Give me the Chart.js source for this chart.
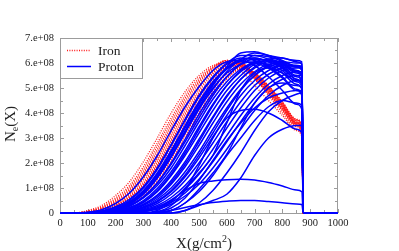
<!DOCTYPE html>
<html>
<head>
<meta charset="utf-8">
<script src="https://cdn.jsdelivr.net/npm/chart.js@4.4.0/dist/chart.umd.min.js"></script>
<style>
html, body { margin: 0; padding: 0; background: #fff; }
#wrap { width: 399px; height: 251px; }
</style>
</head>
<body>
<div id="wrap"><canvas id="chart" width="399" height="251"></canvas></div>
<script>
// depth grid in g/cm2, shower size in units of 1e8
const depth = [0, 50, 100, 150, 200, 250, 300, 350, 400, 450, 500, 550, 600, 650, 700, 750, 800, 850, 870];
const groundDepth = [875, 1000]; // ground level, size drops to 0 there
const groundSize = [0, 0];

const xTicks = [0, 100, 200, 300, 400, 500, 600, 700, 800, 900, 1000];
const yTicks = [0, 1, 2, 3, 4, 5, 6, 7];
const yTickLabels = ['0', '1.e+08', '2.e+08', '3.e+08', '4.e+08', '5.e+08', '6.e+08', '7.e+08'];

const ironCurves = [
    [0, 0, 0.08, 0.25, 0.6, 1.1, 1.85, 2.8, 3.8, 4.7, 5.4, 5.85, 6.1, 5.85, 5.35, 4.75, 4.1, 3.45, 3.2],
    [0, 0, 0.06, 0.2, 0.5, 0.95, 1.65, 2.55, 3.55, 4.5, 5.25, 5.8, 6.1, 5.9, 5.4, 4.8, 4.15, 3.5, 3.25],
    [0, 0, 0.05, 0.17, 0.43, 0.85, 1.5, 2.35, 3.35, 4.3, 5.1, 5.7, 6.05, 5.95, 5.45, 4.85, 4.2, 3.55, 3.3],
    [0, 0, 0.04, 0.15, 0.38, 0.78, 1.4, 2.2, 3.2, 4.15, 5.0, 5.6, 6.0, 6.0, 5.5, 4.9, 4.25, 3.6, 3.35],
    [0, 0, 0.03, 0.12, 0.32, 0.68, 1.25, 2.05, 3.0, 3.95, 4.8, 5.45, 5.9, 6.0, 5.55, 4.95, 4.3, 3.6, 3.35],
    [0, 0, 0.03, 0.1, 0.28, 0.6, 1.12, 1.88, 2.8, 3.75, 4.65, 5.35, 5.85, 5.95, 5.55, 4.98, 4.32, 3.62, 3.38],
    [0, 0, 0.02, 0.08, 0.24, 0.52, 1.0, 1.72, 2.6, 3.55, 4.45, 5.2, 5.75, 5.9, 5.6, 5.0, 4.35, 3.65, 3.4],
    [0, 0, 0.02, 0.07, 0.2, 0.45, 0.88, 1.55, 2.42, 3.35, 4.25, 5.05, 5.6, 5.85, 5.6, 5.05, 4.4, 3.7, 3.45],
    [0, 0, 0.01, 0.05, 0.16, 0.38, 0.78, 1.4, 2.25, 3.15, 4.05, 4.85, 5.45, 5.8, 5.6, 5.05, 4.42, 3.72, 3.48],
    [0, 0, 0.01, 0.04, 0.13, 0.32, 0.68, 1.25, 2.05, 2.95, 3.85, 4.7, 5.35, 5.75, 5.6, 5.1, 4.45, 3.75, 3.5],
    [0, 0, 0.05, 0.18, 0.46, 0.9, 1.58, 2.45, 3.45, 4.4, 5.2, 5.75, 6.1, 5.95, 5.42, 4.82, 4.18, 3.52, 3.28],
    [0, 0, 0.04, 0.14, 0.36, 0.74, 1.35, 2.15, 3.1, 4.05, 4.9, 5.55, 5.95, 6.0, 5.5, 4.9, 4.25, 3.58, 3.32],
    [0, 0, 0.03, 0.11, 0.3, 0.64, 1.18, 1.95, 2.9, 3.85, 4.72, 5.4, 5.88, 5.98, 5.52, 4.95, 4.3, 3.6, 3.36],
    [0, 0, 0.02, 0.09, 0.26, 0.56, 1.06, 1.8, 2.7, 3.65, 4.55, 5.28, 5.8, 5.92, 5.55, 4.98, 4.33, 3.63, 3.38],
    [0, 0, 0.02, 0.06, 0.18, 0.42, 0.84, 1.48, 2.35, 3.25, 4.15, 4.95, 5.55, 5.82, 5.58, 5.05, 4.4, 3.7, 3.45],
    [0, 0, 0.07, 0.22, 0.55, 1.02, 1.75, 2.68, 3.68, 4.6, 5.32, 5.82, 6.1, 5.88, 5.38, 4.78, 4.12, 3.47, 3.22],
    [0, 0, 0.04, 0.16, 0.4, 0.8, 1.45, 2.28, 3.28, 4.22, 5.05, 5.65, 6.02, 5.98, 5.48, 4.88, 4.22, 3.56, 3.3],
    [0, 0, 0.01, 0.05, 0.15, 0.36, 0.74, 1.33, 2.15, 3.05, 3.95, 4.78, 5.4, 5.78, 5.6, 5.08, 4.44, 3.74, 3.5],
    [0, 0, 0.1, 0.3, 0.7, 1.25, 2.05, 3.0, 4.0, 4.85, 5.5, 5.9, 6.0, 5.7, 5.1, 4.5, 3.9, 3.3, 3.05],
    [0, 0, 0.02, 0.1, 0.3, 0.62, 1.15, 1.9, 2.85, 3.8, 4.7, 5.4, 5.85, 5.9, 5.4, 4.7, 4.0, 3.35, 3.1]
];

const protonCurves = [
    [0, 0, 0.03, 0.13, 0.38, 0.8, 1.45, 2.3, 3.3, 4.25, 5.05, 5.7, 6.05, 6.1, 5.9, 5.45, 4.9, 4.35, 4.15],
    [0, 0, 0.01, 0.06, 0.22, 0.5, 1.0, 1.75, 2.7, 3.7, 4.65, 5.4, 5.95, 6.2, 6.1, 5.85, 5.45, 4.95, 4.75],
    [0, 0, 0, 0.04, 0.15, 0.4, 0.85, 1.55, 2.45, 3.45, 4.4, 5.2, 5.8, 6.15, 6.2, 6.05, 5.8, 5.35, 5.15],
    [0, 0, 0, 0.03, 0.12, 0.34, 0.75, 1.4, 2.25, 3.25, 4.2, 4.95, 5.65, 6.15, 6.4, 6.3, 6.1, 5.85, 5.7],
    [0, 0, 0, 0.03, 0.12, 0.35, 0.8, 1.45, 2.3, 3.3, 4.25, 5.1, 5.85, 6.4, 6.45, 6.3, 6.2, 6.1, 6.05],
    [0, 0, 0, 0.02, 0.1, 0.28, 0.62, 1.2, 2.0, 2.95, 3.95, 4.8, 5.45, 5.95, 6.3, 6.25, 6.05, 5.7, 5.5],
    [0, 0, 0.02, 0.08, 0.25, 0.55, 1.05, 1.8, 2.75, 3.75, 4.7, 5.45, 6.0, 6.3, 6.3, 6.15, 5.9, 5.5, 5.3],
    [0, 0, 0.01, 0.05, 0.18, 0.45, 0.9, 1.6, 2.5, 3.5, 4.45, 5.25, 5.8, 6.05, 6.0, 5.8, 5.4, 4.9, 4.7],
    [0, 0, 0, 0.01, 0.06, 0.18, 0.42, 0.85, 1.5, 2.3, 3.2, 4.1, 4.9, 5.5, 5.95, 6.1, 6.0, 5.7, 5.55],
    [0, 0, 0, 0.01, 0.05, 0.15, 0.35, 0.72, 1.3, 2.05, 2.95, 3.85, 4.7, 5.35, 5.8, 6.05, 6.05, 5.85, 5.75],
    [0, 0, 0, 0.01, 0.04, 0.12, 0.3, 0.62, 1.15, 1.85, 2.7, 3.6, 4.45, 5.15, 5.65, 5.95, 6.0, 5.9, 5.85],
    [0, 0, 0, 0, 0.03, 0.1, 0.25, 0.55, 1.0, 1.65, 2.45, 3.35, 4.2, 4.95, 5.5, 5.85, 5.95, 5.85, 5.8],
    [0, 0, 0, 0, 0.02, 0.07, 0.2, 0.45, 0.85, 1.45, 2.2, 3.05, 3.9, 4.7, 5.3, 5.7, 5.9, 5.9, 5.85],
    [0, 0, 0, 0, 0.02, 0.06, 0.16, 0.38, 0.75, 1.3, 2.0, 2.8, 3.65, 4.45, 5.1, 5.55, 5.8, 5.85, 5.85],
    [0, 0, 0, 0, 0.01, 0.05, 0.13, 0.3, 0.62, 1.1, 1.75, 2.55, 3.4, 4.2, 4.9, 5.4, 5.7, 5.8, 5.8],
    [0, 0, 0, 0, 0.01, 0.04, 0.1, 0.25, 0.52, 0.95, 1.55, 2.3, 3.1, 3.9, 4.6, 5.15, 5.5, 5.65, 5.65],
    [0, 0, 0, 0, 0, 0.03, 0.08, 0.2, 0.42, 0.8, 1.35, 2.05, 2.85, 3.65, 4.4, 5.0, 5.35, 5.5, 5.5],
    [0, 0, 0, 0, 0, 0.02, 0.06, 0.15, 0.35, 0.68, 1.15, 1.8, 2.55, 3.35, 4.1, 4.7, 5.1, 5.3, 5.3],
    [0, 0, 0, 0.02, 0.09, 0.27, 0.6, 1.1, 1.8, 2.7, 3.65, 4.55, 5.25, 5.75, 6.0, 5.95, 5.7, 5.25, 5.05],
    [0, 0, 0.01, 0.04, 0.14, 0.38, 0.8, 1.42, 2.25, 3.2, 4.15, 5.0, 5.6, 5.95, 6.05, 5.9, 5.6, 5.15, 4.95],
    [0, 0, 0, 0.03, 0.11, 0.3, 0.65, 1.2, 1.95, 2.85, 3.8, 4.7, 5.45, 5.95, 6.15, 6.1, 5.85, 5.45, 5.25],
    [0, 0, 0, 0.02, 0.07, 0.2, 0.45, 0.9, 1.55, 2.4, 3.35, 4.3, 5.1, 5.7, 6.05, 6.15, 6.0, 5.65, 5.5],
    [0, 0, 0, 0.01, 0.05, 0.14, 0.33, 0.68, 1.22, 1.95, 2.85, 3.8, 4.65, 5.35, 5.85, 6.15, 6.2, 6.05, 5.95],
    [0, 0, 0, 0, 0.03, 0.09, 0.22, 0.48, 0.9, 1.52, 2.32, 3.2, 4.1, 4.9, 5.5, 5.9, 6.05, 6.0, 6.0],
    [0, 0, 0.01, 0.05, 0.17, 0.42, 0.85, 1.5, 2.4, 3.4, 4.35, 5.15, 5.75, 6.1, 6.2, 6.05, 5.8, 5.35, 5.15],
    [0, 0, 0, 0.02, 0.08, 0.22, 0.5, 0.98, 1.65, 2.5, 3.45, 4.35, 5.1, 5.65, 6.0, 6.1, 5.95, 5.6, 5.45],
    // late and small showers
    [0, 0, 0, 0, 0, 0, 0, 0.05, 0.3, 0.9, 1.9, 3.0, 3.8, 4.1, 4.15, 4.0, 3.7, 3.35, 3.2],
    [0, 0, 0, 0, 0, 0, 0, 0, 0, 0.1, 0.3, 0.5, 0.75, 1.4, 2.3, 3.0, 3.35, 3.5, 3.5],
    [0, 0, 0, 0, 0, 0, 0, 0, 0.1, 0.4, 0.85, 1.5, 2.3, 3.0, 3.7, 4.25, 4.5, 4.4, 4.3],
    [0, 0, 0, 0, 0, 0, 0, 0.05, 0.2, 0.6, 1.3, 2.1, 2.9, 3.6, 4.2, 4.6, 4.8, 4.9, 4.9],
    [0, 0, 0, 0, 0, 0, 0, 0, 0, 0.1, 0.4, 0.9, 1.6, 2.4, 3.3, 4.05, 4.5, 4.75, 4.8],
    [0, 0, 0, 0, 0, 0, 0, 0, 0.1, 0.4, 0.95, 1.6, 2.35, 3.4, 4.4, 5.0, 5.2, 5.1, 5.0],
    [0, 0, 0, 0, 0, 0, 0, 0.1, 0.45, 1.0, 1.6, 2.3, 3.6, 4.9, 5.6, 5.8, 5.6, 5.3, 5.2],
    [0, 0, 0, 0, 0, 0, 0, 0.03, 0.1, 0.22, 0.33, 0.42, 0.47, 0.5, 0.5, 0.46, 0.41, 0.36, 0.34],
    [0, 0, 0, 0, 0, 0, 0.05, 0.2, 0.5, 0.9, 1.18, 1.28, 1.33, 1.35, 1.32, 1.22, 1.08, 0.92, 0.85]
];

const serif = "'Liberation Serif', serif";
const frameColor = '#9c9c9c';
const ironColor = '#ff1a1a';
const protonColor = '#0000ff';

function toPoints(curve) {
    const xs = depth.concat(groundDepth);
    const ys = curve.concat(groundSize);
    return xs.map((x, i) => ({ x: x, y: ys[i] }));
}

function makeDataset(curve, isIron) {
    return {
        data: toPoints(curve),
        borderColor: isIron ? ironColor : protonColor,
        borderWidth: isIron ? 1.3 : 1.5,
        borderDash: isIron ? [1, 1.4] : [],
        pointRadius: 0,
        showLine: true,
        fill: false,
        cubicInterpolationMode: 'monotone',
        clip: false,
        order: isIron ? 1 : 0 // protons drawn on top
    };
}

// frame and inward ticks, under the curves
const framePlugin = {
    id: 'framePlugin',
    beforeDatasetsDraw(chart) {
        const ctx = chart.ctx;
        const a = chart.chartArea;
        const xs = chart.scales.x, ys = chart.scales.y;
        ctx.save();
        ctx.strokeStyle = frameColor;
        ctx.lineWidth = 1;
        ctx.strokeRect(a.left + 0.5, a.top + 0.5, a.right - a.left - 1, a.bottom - a.top);

        ctx.beginPath();
        for (let i = 0; i < xTicks.length; i++) {
            const mids = [xTicks[i]];
            if (i < xTicks.length - 1) mids.push((xTicks[i] + xTicks[i + 1]) / 2);
            mids.forEach((v, k) => {
                const px = Math.round(xs.getPixelForValue(v)) + 0.5;
                const len = k === 0 ? 4 : 3;
                ctx.moveTo(px, a.bottom); ctx.lineTo(px, a.bottom - len);
                ctx.moveTo(px, a.top); ctx.lineTo(px, a.top + len);
            });
        }
        for (let i = 0; i < yTicks.length; i++) {
            const mids = [yTicks[i]];
            if (i < yTicks.length - 1) mids.push((yTicks[i] + yTicks[i + 1]) / 2);
            mids.forEach((v, k) => {
                const py = Math.round(ys.getPixelForValue(v)) + 0.5;
                const len = k === 0 ? 4 : 3;
                ctx.moveTo(a.left, py); ctx.lineTo(a.left + len, py);
                ctx.moveTo(a.right, py); ctx.lineTo(a.right - len, py);
            });
        }
        ctx.stroke();
        ctx.restore();
    },
    afterDraw(chart) {
        const ctx = chart.ctx;
        const a = chart.chartArea;
        const xs = chart.scales.x, ys = chart.scales.y;
        ctx.save();
        ctx.fillStyle = '#222';

        // tick labels
        ctx.font = '10.5px ' + serif;
        ctx.textAlign = 'right';
        ctx.textBaseline = 'middle';
        yTicks.forEach((v, i) => {
            ctx.fillText(yTickLabels[i], a.left - 6, ys.getPixelForValue(v));
        });
        ctx.textAlign = 'center';
        ctx.textBaseline = 'top';
        xTicks.forEach(v => {
            ctx.fillText(String(v), xs.getPixelForValue(v), a.bottom + 5);
        });

        // x title: X(g/cm^2)
        ctx.textBaseline = 'alphabetic';
        ctx.textAlign = 'left';
        const big = '15px ' + serif, small = '10px ' + serif;
        ctx.font = big;
        const t1 = 'X(g/cm', t3 = ')';
        const w1 = ctx.measureText(t1).width, w3 = ctx.measureText(t3).width;
        ctx.font = small;
        const w2 = ctx.measureText('2').width;
        let x0 = (a.left + a.right) / 2 + 5 - (w1 + w2 + w3) / 2;
        const base = 248;
        ctx.font = big; ctx.fillText(t1, x0, base);
        ctx.font = small; ctx.fillText('2', x0 + w1, base - 6);
        ctx.font = big; ctx.fillText(t3, x0 + w1 + w2, base);

        // y title: N_e(X), rotated
        ctx.save();
        ctx.translate(15, 124);
        ctx.rotate(-Math.PI / 2);
        ctx.font = big;
        const n1 = ctx.measureText('N').width, n3 = ctx.measureText('(X)').width;
        ctx.font = small;
        const n2 = ctx.measureText('e').width;
        let y0 = -(n1 + n2 + n3) / 2;
        ctx.font = big; ctx.fillText('N', y0, 0);
        ctx.font = small; ctx.fillText('e', y0 + n1, 3);
        ctx.font = big; ctx.fillText('(X)', y0 + n1 + n2, 0);
        ctx.restore();

        // legend box
        const lx = a.left, ly = a.top, lw = 82, lh = 40;
        ctx.fillStyle = '#fff';
        ctx.fillRect(lx + 0.5, ly + 0.5, lw, lh);
        ctx.strokeStyle = frameColor;
        ctx.lineWidth = 1;
        ctx.strokeRect(lx + 0.5, ly + 0.5, lw, lh);

        ctx.lineWidth = 1.3;
        ctx.strokeStyle = ironColor;
        ctx.setLineDash([1, 1.4]);
        ctx.beginPath(); ctx.moveTo(lx + 7, ly + 12.5); ctx.lineTo(lx + 31, ly + 12.5); ctx.stroke();
        ctx.setLineDash([]);
        ctx.lineWidth = 1.5;
        ctx.strokeStyle = protonColor;
        ctx.beginPath(); ctx.moveTo(lx + 7, ly + 28.5); ctx.lineTo(lx + 31, ly + 28.5); ctx.stroke();

        ctx.fillStyle = '#222';
        ctx.font = '13.5px ' + serif;
        ctx.textBaseline = 'middle';
        ctx.fillText('Iron', lx + 38, ly + 13);
        ctx.fillText('Proton', lx + 38, ly + 29);
        ctx.restore();
    }
};

const datasets = protonCurves.map(c => makeDataset(c, false))
    .concat(ironCurves.map(c => makeDataset(c, true)));

new Chart(document.getElementById('chart').getContext('2d'), {
    type: 'scatter',
    data: { datasets: datasets },
    options: {
        responsive: false,
        animation: false,
        layout: { padding: { left: 60, right: 61, top: 38, bottom: 38 } },
        scales: {
            x: { type: 'linear', min: 0, max: 1000, display: false },
            y: { type: 'linear', min: 0, max: 7, display: false }
        },
        plugins: {
            legend: { display: false },
            tooltip: { enabled: false }
        }
    },
    plugins: [framePlugin]
});
</script>
</body>
</html>
